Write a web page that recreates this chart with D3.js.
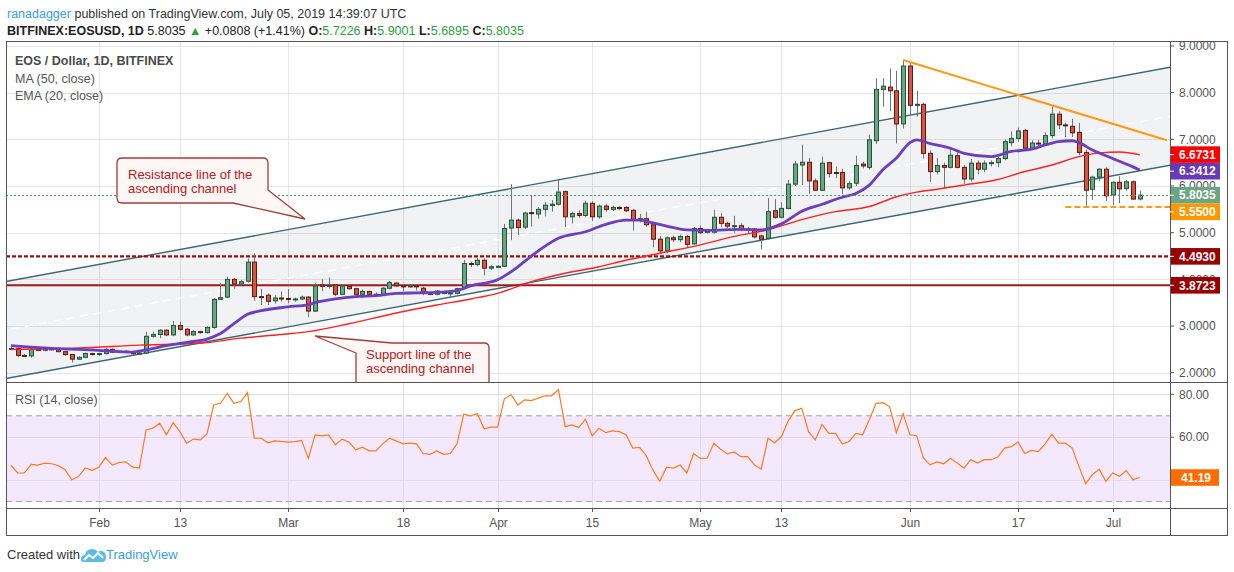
<!DOCTYPE html>
<html><head><meta charset="utf-8">
<script src="https://cdn.jsdelivr.net/npm/d3@7"></script>
<style>body{margin:0;background:#fff;}svg{display:block;font-family:"Liberation Sans",Arial,sans-serif;}</style>
</head><body><svg id="c" width="1234" height="572"></svg>
<script>
// ---------- DATA ----------
const startDate = "2019-01-19";
const opens = [2.50,2.52,2.37,2.36,2.50,2.48,2.51,2.50,2.45,2.39,
2.29,2.33,2.41,2.39,2.41,2.50,2.44,2.46,2.45,2.41,
2.42,2.78,2.82,2.91,2.81,3.01,2.93,2.81,2.88,2.86,
2.97,3.57,3.62,4.00,3.90,3.96,4.37,3.63,3.66,3.54,
3.60,3.59,3.56,3.58,3.62,3.32,3.88,3.85,3.88,3.68,
3.85,3.80,3.68,3.74,3.68,3.67,3.81,3.92,3.86,3.84,
3.86,3.81,3.70,3.68,3.74,3.70,3.70,3.81,4.34,4.32,
4.41,4.24,4.27,4.28,5.10,5.27,5.12,5.43,5.40,5.50,
5.58,5.61,5.88,5.34,5.41,5.37,5.63,5.34,5.57,5.50,
5.54,5.54,5.48,5.27,5.30,5.17,4.86,4.61,4.89,4.85,
4.92,4.76,5.09,5.01,5.01,5.33,5.20,5.14,5.15,5.07,
5.08,4.93,4.88,5.47,5.33,5.52,6.04,6.45,6.51,6.11,
5.91,6.50,6.29,6.29,5.96,6.06,6.47,6.40,6.97,8.07,
8.12,8.04,7.33,8.57,7.73,7.75,6.70,6.31,6.44,6.40,
6.65,6.40,6.15,6.49,6.36,6.49,6.50,6.59,6.93,7.02,
7.19,6.81,6.92,6.90,7.08,7.54,7.31,7.28,7.15,6.72,
5.93,6.19,6.36,5.81,6.08,5.95,6.09,5.7226];
const highs = [2.56,2.54,2.40,2.54,2.52,2.53,2.54,2.55,2.47,2.40,
2.35,2.43,2.43,2.43,2.53,2.52,2.48,2.48,2.47,2.44,
2.88,2.88,2.93,2.93,3.11,3.09,2.96,2.91,2.90,2.99,
3.60,3.92,4.06,4.03,3.98,4.45,4.56,3.80,3.70,3.66,
3.74,3.79,3.61,3.65,3.64,3.92,4.00,4.04,3.90,3.88,
3.87,3.82,3.78,3.76,3.72,3.83,3.97,3.94,3.89,3.88,
3.88,3.84,3.73,3.77,3.76,3.73,3.82,4.42,4.38,4.46,
4.45,4.30,4.30,5.19,6.04,5.30,5.45,5.79,5.55,5.66,
5.70,6.13,5.90,5.45,5.48,5.68,5.67,5.60,5.62,5.58,
5.57,5.57,5.50,5.40,5.45,5.20,4.93,4.92,4.94,4.96,
4.95,5.12,5.15,5.06,5.49,5.42,5.24,5.36,5.20,5.12,
5.10,4.96,5.74,5.72,5.65,6.13,6.54,6.89,6.60,6.16,
6.63,6.52,6.42,6.37,6.10,6.65,6.52,7.10,8.31,8.31,
8.52,8.47,8.70,8.65,8.04,7.78,6.76,6.60,6.50,6.83,
6.78,6.45,6.58,6.55,6.55,6.55,6.64,7.00,7.17,7.25,
7.22,6.98,6.99,7.15,7.71,7.60,7.36,7.44,7.35,6.78,
6.22,6.38,6.40,6.10,6.21,6.13,6.12,5.9001];
const lows = [2.48,2.33,2.34,2.32,2.46,2.46,2.48,2.44,2.36,2.22,
2.27,2.31,2.37,2.36,2.39,2.42,2.42,2.44,2.38,2.39,
2.40,2.75,2.74,2.78,2.78,2.90,2.78,2.79,2.84,2.84,
2.94,3.56,3.60,3.80,3.85,3.93,3.54,3.45,3.45,3.48,
3.52,3.49,3.52,3.55,3.19,3.30,3.75,3.80,3.64,3.66,
3.78,3.62,3.60,3.65,3.62,3.65,3.79,3.84,3.75,3.82,
3.76,3.66,3.66,3.66,3.68,3.62,3.68,3.79,4.26,4.28,
4.08,4.20,4.24,4.26,4.84,4.95,5.08,5.13,5.30,5.35,
5.45,5.58,5.12,5.20,5.32,5.33,5.25,5.30,5.45,5.46,
5.48,5.44,5.05,5.22,5.13,4.69,4.55,4.56,4.80,4.80,
4.68,4.74,4.98,4.98,4.98,5.12,5.10,5.00,5.03,4.98,
4.88,4.64,4.85,5.30,5.31,5.50,6.00,6.02,5.83,5.90,
5.89,6.18,6.17,5.83,5.92,6.00,6.38,6.35,6.90,7.70,
7.60,6.91,7.23,7.52,7.49,6.59,6.09,6.25,5.95,6.38,
6.38,6.04,6.10,6.25,6.30,6.42,6.40,6.55,6.85,6.95,
6.75,6.78,6.82,6.87,7.02,7.22,7.05,7.05,6.66,5.58,
5.70,6.10,5.68,5.59,5.63,5.90,5.71,5.6895];
const closes = [2.52,2.37,2.36,2.50,2.48,2.51,2.50,2.45,2.39,2.29,
2.33,2.41,2.39,2.41,2.50,2.44,2.46,2.45,2.41,2.42,
2.78,2.82,2.91,2.81,3.01,2.93,2.81,2.88,2.86,2.97,
3.57,3.61,4.00,3.90,3.95,4.37,3.63,3.62,3.53,3.60,
3.59,3.57,3.58,3.62,3.32,3.86,3.85,3.87,3.68,3.86,
3.80,3.68,3.74,3.68,3.67,3.81,3.93,3.86,3.84,3.86,
3.84,3.70,3.69,3.75,3.70,3.71,3.80,4.34,4.32,4.41,
4.24,4.27,4.28,5.09,5.27,5.11,5.42,5.41,5.50,5.59,
5.61,5.87,5.34,5.41,5.37,5.63,5.34,5.57,5.50,5.54,
5.53,5.47,5.27,5.30,5.17,4.86,4.61,4.89,4.85,4.92,
4.75,5.09,5.00,5.03,5.33,5.20,5.14,5.15,5.07,5.08,
4.91,4.86,5.45,5.33,5.52,6.04,6.47,6.51,6.11,5.91,
6.49,6.27,6.28,5.96,6.05,6.44,6.43,6.99,8.07,8.14,
8.04,7.33,8.57,7.73,7.75,6.70,6.31,6.44,6.40,6.66,
6.40,6.15,6.49,6.36,6.49,6.50,6.59,6.95,7.02,7.18,
6.81,6.92,6.91,7.08,7.54,7.31,7.29,7.14,6.72,5.91,
6.19,6.36,5.79,6.08,5.94,6.09,5.72,5.8035];
const rsi = [46.8,43.3,43.3,47.3,47.0,47.9,47.6,46.8,44.8,40.1,
41.6,45.6,44.5,46.0,50.5,47.0,48.2,48.5,46.0,45.6,
63.4,64.2,66.5,61.1,66.8,62.6,57.2,59.1,58.7,61.5,
75.0,75.8,80.4,75.8,76.6,80.8,59.5,59.5,57.4,58.3,
58.0,57.7,57.9,58.5,50.1,61.1,60.6,61.1,56.4,59.1,
57.8,54.1,55.3,53.6,53.6,56.9,59.5,58.3,56.9,57.2,
56.9,52.4,52.0,53.6,52.0,52.4,56.9,70.8,69.9,71.0,
63.9,64.7,64.7,77.9,79.8,75.0,77.4,77.1,78.2,79.3,
79.3,82.2,64.9,65.7,64.5,68.4,60.6,64.2,62.1,62.9,
62.6,61.1,54.9,55.2,51.3,44.5,39.4,46.0,45.6,47.0,
43.3,52.4,50.1,50.2,57.2,54.4,52.2,53.1,50.9,50.9,
47.0,45.1,59.5,57.4,60.3,67.6,72.4,73.5,62.6,58.7,
66.0,61.8,61.8,56.8,58.0,61.8,61.1,68.2,75.8,76.1,
74.3,62.1,71.0,61.1,60.7,50.2,47.1,48.5,47.6,50.2,
47.9,45.6,49.5,47.9,49.5,49.5,50.7,54.9,55.6,57.7,
52.4,53.8,53.3,56.9,61.4,57.2,57.2,54.9,46.4,38.3,
42.5,45.1,39.4,43.3,41.8,44.4,40.1,41.19];
// moving averages (day offset from startDate, value)
const ma50Days = [0,10,19,28,34,40,44,50,57,63,68,72,77,82,87,91,96,102,107,112,117,122,127,131,134,137,141,146,150,154,158,161,164,167];
const ma50Vals = [2.50,2.53,2.59,2.63,2.74,2.82,2.88,3.05,3.28,3.45,3.58,3.70,3.95,4.13,4.27,4.41,4.56,4.74,4.92,5.06,5.28,5.45,5.56,5.77,5.87,5.93,6.02,6.14,6.31,6.45,6.63,6.71,6.73,6.67];
const ema20Days = [0,6,13,18,20,23,26,29,31,33,35,37,41,44,45,48,51,54,57,60,63,66,68,72,75,77,81,85,88,91,93,95,97,100,103,108,111,114,117,120,123,125,127,129,131,133,134,136,139,141,145,148,151,153,155,157,158,160,163,166,167];
const ema20Vals = [2.58,2.52,2.48,2.44,2.49,2.58,2.65,2.72,2.84,3.05,3.25,3.33,3.41,3.46,3.50,3.58,3.63,3.65,3.70,3.71,3.72,3.76,3.86,3.99,4.27,4.50,4.88,5.02,5.18,5.27,5.27,5.21,5.14,5.06,5.05,5.07,5.06,5.19,5.46,5.61,5.76,5.84,6.02,6.35,6.60,6.93,6.99,6.91,6.81,6.70,6.63,6.74,6.79,6.88,6.95,6.97,6.93,6.77,6.59,6.41,6.34];
const priceTicks = [2,3,4,5,6,7,8,9];
const rsiGrid = [80,60,40];
const rsiTickLabels = [80,60];
const rsiBand = [70,30];
const timeTicks = [["2019-02-01","Feb"],["2019-02-13","13"],["2019-03-01","Mar"],["2019-03-18","18"],["2019-04-01","Apr"],["2019-04-15","15"],["2019-05-01","May"],["2019-05-13","13"],["2019-06-01","Jun"],["2019-06-17","17"],["2019-07-01","Jul"]];
const channelUpper = [["2019-01-17",3.92],["2019-07-10",8.557]];
const channelLower = [["2019-01-17",1.841],["2019-07-10",6.457]];
const trendLine = [["2019-05-31",8.70],["2019-07-09",6.98]];
const supportLine = [["2019-06-24",5.55],["2019-07-12",5.55]];
const levelDashed = 4.4930;
const levelSolid = 3.8723;
const lastClose = 5.8035;
const lastMA50 = 6.6731, lastEMA20 = 6.3412, lastRSI = 41.19;

// ---------- SCALES ----------
const svg = d3.select("#c");
const L=6, R=1170, T=41, MB=382, RB=508, AB=535, FR=1227;
const parse = d3.utcParse("%Y-%m-%d");
const x = d3.scaleUtc().domain([parse("2019-02-01"), parse("2019-07-01")]).range([98.8, 1112.7]);
const y = d3.scaleLinear().domain([2,9]).range([372.7,46]);
const yr = d3.scaleLinear().domain([30,80]).range([501.5,394.3]);
const t0 = parse(startDate);
const dates = opens.map((_,i)=>d3.utcDay.offset(t0,i));

svg.append("rect").attr("width",1234).attr("height",572).attr("fill","#fff");
const defs = svg.append("defs");
defs.append("clipPath").attr("id","cm").append("rect").attr("x",L).attr("y",T).attr("width",R-L).attr("height",MB-T);
defs.append("clipPath").attr("id","cr").append("rect").attr("x",L).attr("y",MB).attr("width",R-L).attr("height",RB-MB);

const grid = svg.append("g").attr("stroke","#e6e6e6").attr("stroke-width",1);
priceTicks.forEach(v=>grid.append("line").attr("x1",L).attr("x2",R).attr("y1",Math.round(y(v))+0.5).attr("y2",Math.round(y(v))+0.5));
timeTicks.forEach(t=>{const xx=Math.round(x(parse(t[0])))+0.5;grid.append("line").attr("x1",xx).attr("x2",xx).attr("y1",T).attr("y2",RB);});

// RSI pane background
const rg = svg.append("g").attr("clip-path","url(#cr)");
rg.append("rect").attr("x",L).attr("width",R-L).attr("y",yr(rsiBand[0])).attr("height",yr(rsiBand[1])-yr(rsiBand[0])).attr("fill","#f4e8fd");
rsiGrid.forEach(v=>rg.append("line").attr("x1",L).attr("x2",R).attr("y1",Math.round(yr(v))+0.5).attr("y2",Math.round(yr(v))+0.5).attr("stroke","#e2dcea"));
timeTicks.forEach(t=>{const xx=Math.round(x(parse(t[0])))+0.5;rg.append("line").attr("x1",xx).attr("x2",xx).attr("y1",MB).attr("y2",RB).attr("stroke","#e2dcea");});
rsiBand.forEach(v=>rg.append("line").attr("x1",L).attr("x2",R).attr("y1",yr(v)).attr("y2",yr(v)).attr("stroke","#a9a4b4").attr("stroke-dasharray","6,4"));

// main pane
const mg = svg.append("g").attr("clip-path","url(#cm)");
const P = d=>[x(parse(d[0])), y(d[1])];
const u0=P(channelUpper[0]),u1=P(channelUpper[1]),l0=P(channelLower[0]),l1=P(channelLower[1]);
mg.append("path").attr("d",`M${u0}L${u1}L${l1}L${l0}Z`).attr("fill","rgba(110,125,150,0.1)");
mg.append("line").attr("x1",(u0[0]+l0[0])/2).attr("y1",(u0[1]+l0[1])/2).attr("x2",(u1[0]+l1[0])/2).attr("y2",(u1[1]+l1[1])/2)
  .attr("stroke","#fff").attr("stroke-width",1.5).attr("stroke-dasharray","8,6");
[[u0,u1],[l0,l1]].forEach(s=>mg.append("line").attr("x1",s[0][0]).attr("y1",s[0][1]).attr("x2",s[1][0]).attr("y2",s[1][1]).attr("stroke","#3b6672").attr("stroke-width",1.4));
mg.append("line").attr("x1",L).attr("x2",R).attr("y1",y(levelDashed)).attr("y2",y(levelDashed)).attr("stroke","#9a0f0f").attr("stroke-width",2.2).attr("stroke-dasharray","4,2");
mg.append("line").attr("x1",L).attr("x2",R).attr("y1",y(levelSolid)).attr("y2",y(levelSolid)).attr("stroke","#a31a1a").attr("stroke-width",2);

// candles
const cg = mg.append("g");
dates.forEach((d,i)=>{
  const cx = Math.round(x(d))+0.5;
  const up = closes[i]>=opens[i];
  cg.append("line").attr("x1",cx).attr("x2",cx).attr("y1",y(highs[i])).attr("y2",y(lows[i])).attr("stroke","#737375").attr("stroke-width",1);
  const top = y(Math.max(opens[i],closes[i])), bot = y(Math.min(opens[i],closes[i]));
  cg.append("rect").attr("x",cx-2).attr("width",4).attr("y",top).attr("height",Math.max(1,bot-top))
    .attr("fill",up?"#6ba583":"#d75442").attr("stroke",up?"#225437":"#5b1a13").attr("stroke-width",1);
});

// moving averages
const lineGen = d3.line().x(d=>x(d[0])).y(d=>y(d[1])).curve(d3.curveMonotoneX);
mg.append("path").attr("d",lineGen(ma50Days.map((k,i)=>[d3.utcDay.offset(t0,k),ma50Vals[i]]))).attr("fill","none").attr("stroke","#ff2020").attr("stroke-width",1.4);
mg.append("path").attr("d",lineGen(ema20Days.map((k,i)=>[d3.utcDay.offset(t0,k),ema20Vals[i]]))).attr("fill","none").attr("stroke","#6a3fc0").attr("stroke-width",2.8);

// trend + support dashed
const tl0=P(trendLine[0]),tl1=P(trendLine[1]);
mg.append("line").attr("x1",tl0[0]).attr("y1",tl0[1]).attr("x2",tl1[0]).attr("y2",tl1[1]).attr("stroke","#ff9a10").attr("stroke-width",2);
const s0=P(supportLine[0]),s1=P(supportLine[1]);
mg.append("line").attr("x1",s0[0]).attr("y1",s0[1]).attr("x2",s1[0]).attr("y2",s1[1]).attr("stroke","#ff9a10").attr("stroke-width",2).attr("stroke-dasharray","6,3");
mg.append("line").attr("x1",L).attr("x2",R).attr("y1",Math.round(y(lastClose))+0.5).attr("y2",Math.round(y(lastClose))+0.5).attr("stroke","#4f9a6c").attr("stroke-width",1).attr("stroke-dasharray","2,2");

// callouts
const co = mg.append("g");
co.append("path").attr("d","M122,158 H263 Q268,158 268,163 V190 L305,219 L233,203 H122 Q117,203 117,198 V163 Q117,158 122,158 Z")
  .attr("fill","#fff6f6").attr("stroke","#a33b3b").attr("stroke-width",1.3);
co.append("path").attr("d","M356,353 L315,336 L392,343 H484 Q489,343 489,348 V392 H356 Z")
  .attr("fill","#fff6f6").attr("stroke","#a33b3b").attr("stroke-width",1.3);
const ct = co.append("g").attr("fill","#b52020").attr("font-size",13);
ct.append("text").attr("x",128).attr("y",179).text("Resistance line of the");
ct.append("text").attr("x",128).attr("y",193).text("ascending channel");
ct.append("text").attr("x",366).attr("y",359).text("Support line of the");
ct.append("text").attr("x",366).attr("y",373).text("ascending channel");

// legend
const lg = svg.append("g").attr("font-size",12.5).attr("fill","#555");
lg.append("text").attr("x",15).attr("y",65).attr("font-weight","bold").attr("fill","#4a4a4a").text("EOS / Dollar, 1D, BITFINEX");
lg.append("text").attr("x",15).attr("y",83).text("MA (50, close)");
lg.append("text").attr("x",15).attr("y",100).text("EMA (20, close)");
lg.append("text").attr("x",15).attr("y",404).text("RSI (14, close)");

// RSI line
rg.append("path").attr("d",d3.line().x((d,i)=>x(dates[i])).y(d=>yr(d))(rsi)).attr("fill","none").attr("stroke","#ff7a1a").attr("stroke-width",1.2);

// frames
const fr = svg.append("g").attr("stroke","#555").attr("fill","none");
fr.append("rect").attr("x",L+0.5).attr("y",T+0.5).attr("width",FR-L).attr("height",AB-T);
fr.append("line").attr("x1",L).attr("x2",FR).attr("y1",MB+0.5).attr("y2",MB+0.5);
fr.append("line").attr("x1",L).attr("x2",FR).attr("y1",RB+0.5).attr("y2",RB+0.5);
fr.append("line").attr("x1",R+0.5).attr("x2",R+0.5).attr("y1",T).attr("y2",AB);

// price axis
const ax = svg.append("g").attr("font-size",12);
priceTicks.forEach(v=>{
  ax.append("line").attr("x1",R).attr("x2",R+4).attr("y1",y(v)).attr("y2",y(v)).attr("stroke","#555");
  ax.append("text").attr("x",1179).attr("y",y(v)+4.2).attr("fill","#555").text(v.toFixed(4));
});
const labelVals = [lastMA50,lastEMA20,lastClose,5.55,levelDashed,levelSolid];
const labelCols = ["#ff0000","#673ab7","#6ba583","#ff9800","#990000","#990000"];
let prev=-100;
labelVals.forEach((v,i)=>{
  let yy=y(v); if(yy<prev+16.6) yy=prev+16.6; prev=yy;
  ax.append("rect").attr("x",R+1).attr("y",yy-8.3).attr("width",49).attr("height",16.6).attr("fill",labelCols[i]);
  ax.append("line").attr("x1",R).attr("x2",R+4).attr("y1",yy).attr("y2",yy).attr("stroke","#fff");
  ax.append("text").attr("x",1179).attr("y",yy+4.3).attr("fill","#fff").attr("font-weight","bold").text(v.toFixed(4));
});
rsiTickLabels.forEach(v=>{
  ax.append("line").attr("x1",R).attr("x2",R+4).attr("y1",yr(v)).attr("y2",yr(v)).attr("stroke","#555");
  ax.append("text").attr("x",1179).attr("y",yr(v)+4.2).attr("fill","#555").text(v.toFixed(2));
});
ax.append("rect").attr("x",R+1).attr("y",yr(lastRSI)-8.3).attr("width",48).attr("height",16.6).attr("fill","#ff6d00");
ax.append("text").attr("x",1181).attr("y",yr(lastRSI)+4.3).attr("fill","#fff").attr("font-weight","bold").text(lastRSI.toFixed(2));

// time axis
timeTicks.forEach(t=>{
  const xx=Math.round(x(parse(t[0])))+0.5;
  ax.append("line").attr("x1",xx).attr("x2",xx).attr("y1",RB).attr("y2",RB+4).attr("stroke","#555");
  ax.append("text").attr("x",xx).attr("y",527).attr("text-anchor","middle").attr("fill","#555").text(t[1]);
});

// header
const h1 = svg.append("text").attr("x",7).attr("y",18).attr("font-size",12.5).attr("fill","#333");
h1.append("tspan").attr("fill","#3aa0de").text("ranadagger");
h1.append("tspan").text(" published on TradingView.com, July 05, 2019 14:39:07 UTC");
const h2 = svg.append("text").attr("x",7).attr("y",35).attr("font-size",12.5).attr("fill","#222");
const g2 = "#2f9e3f";
h2.append("tspan").attr("font-weight","bold").text("BITFINEX:EOSUSD, 1D");
h2.append("tspan").text("  5.8035 ");
h2.append("tspan").attr("fill",g2).text("▲");
h2.append("tspan").text(" +0.0808 (+1.41%) ");
[["O:","5.7226"],["H:","5.9001"],["L:","5.6895"],["C:","5.8035"]].forEach((p,i)=>{
  h2.append("tspan").attr("font-weight","bold").text((i?" ":"")+p[0]);
  h2.append("tspan").attr("fill",g2).text(p[1]);
});

// footer
svg.append("text").attr("x",7).attr("y",559).attr("font-size",13).attr("fill","#333").text("Created with");
const logo = svg.append("g").attr("transform","translate(81,545)");
logo.append("path").attr("d","M2,17 Q0,17 0,14 Q0,10 4,10 Q5,4 11,4 Q15,4 17,7 Q19,5 21,6 Q25,7 25,12 Q25,17 21,17 Z").attr("fill","#5bbcea");
logo.append("path").attr("d","M3,15 L8,10 L12,13 L17,8 L22,13").attr("fill","none").attr("stroke","#fff").attr("stroke-width",2);
svg.append("text").attr("x",106).attr("y",559).attr("font-size",13).attr("fill","#3aa0de").text("TradingView");
</script></body></html>
